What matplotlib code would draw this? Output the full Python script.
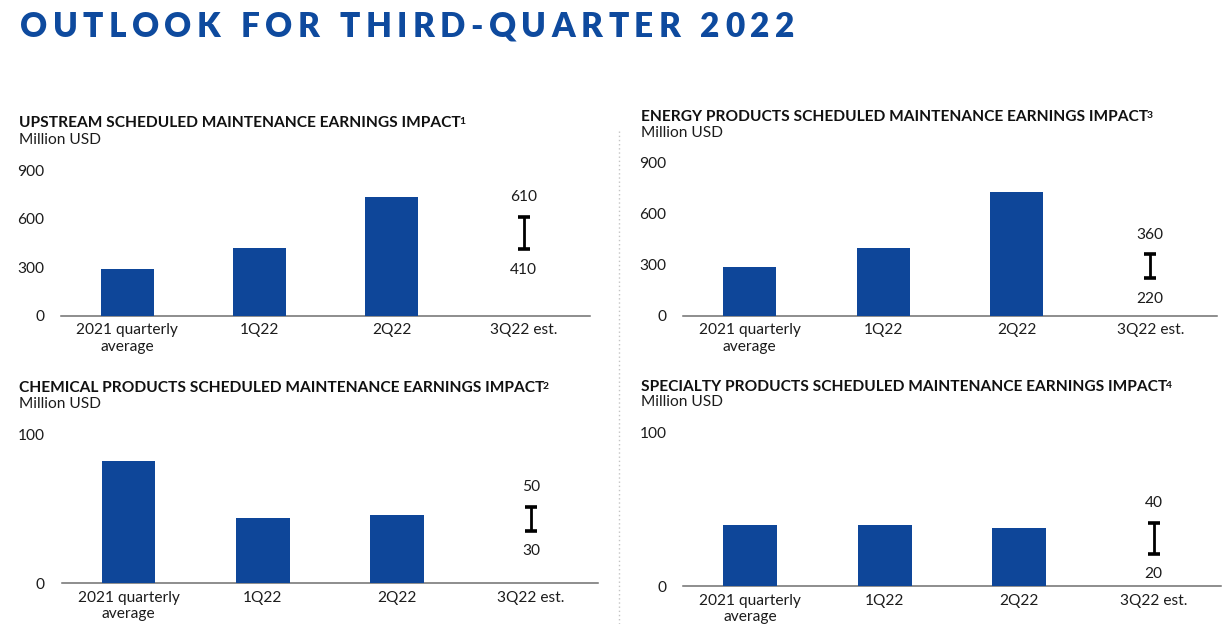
import matplotlib
matplotlib.use("Agg")
import matplotlib.pyplot as plt
from matplotlib.lines import Line2D

# ---------------- data ----------------
categories = ["2021 quarterly\naverage", "1Q22", "2Q22", "3Q22 est."]

upstream_vals = [288, 418, 731]
upstream_range = [410, 610]
upstream_range_labels = ["410", "610"]

energy_vals = [287, 397, 731]
energy_range = [220, 362]
energy_range_labels = ["220", "360"]

chemical_vals = [82, 44, 46]
chemical_range = [35, 51]
chemical_range_labels = ["30", "50"]

specialty_vals = [40, 40, 38]
specialty_range = [21, 41]
specialty_range_labels = ["20", "40"]

big_ticks = [0, 300, 600, 900]
small_ticks = [0, 100]

main_title = "OUTLOOK FOR THIRD-QUARTER 2022"
titles = [
    "UPSTREAM SCHEDULED MAINTENANCE EARNINGS IMPACT",
    "ENERGY PRODUCTS SCHEDULED MAINTENANCE EARNINGS IMPACT",
    "CHEMICAL PRODUCTS SCHEDULED MAINTENANCE EARNINGS IMPACT",
    "SPECIALTY PRODUCTS SCHEDULED MAINTENANCE EARNINGS IMPACT",
]
footnotes = ["1", "3", "2", "4"]
unit_label = "Million USD"

# ---------------- style ----------------
W, H = 1229, 624
FONT = ["Lato", "DejaVu Sans"]
BLUE = "#0E4699"
TITLE_BLUE = "#0E4A9E"
NUM_FS = 11.2
TXT = "#1c1c1c"

plt.rcParams["font.family"] = FONT

fig = plt.figure(figsize=(W / 100, H / 100), dpi=100)
fig.patch.set_facecolor("white")
renderer = fig.canvas.get_renderer()


def fx(px):
    return px / W


def fy(py):
    return 1 - py / H


def rect(x0, x1, y0px, ytop):
    return [fx(x0), fy(y0px), (x1 - x0) / W, (y0px - ytop) / H]


# main title with letter spacing
tfs = 24
TW = "heavy"
widths = []
for ch in main_title:
    if ch == " ":
        widths.append(None)
        continue
    t = fig.text(0, 0, ch, fontsize=tfs, fontweight=TW, family=FONT)
    widths.append(t.get_window_extent(renderer).width)
    t.remove()
x_start, x_end = 20, 794
n_gaps = len(main_title) - 1
word_gap = 20
n_spaces = main_title.count(" ")
ink = sum(w for w in widths if w is not None)
s = (x_end - x_start - ink - n_spaces * word_gap) / (n_gaps - 2 * n_spaces)
x = x_start
for ch, w in zip(main_title, widths):
    if w is None:
        x += word_gap - s
        continue
    fig.text(fx(x), fy(36.7), ch, fontsize=tfs, fontweight=TW,
             color=TITLE_BLUE, ha="left", va="baseline", family=FONT)
    x += w + s


def panel(axrect, vals, rng, rng_labels, ticks, ymax, title, note, title_xy, unit_xy):
    ax = fig.add_axes(axrect)
    xs = list(range(len(categories)))
    ax.bar(xs[:len(vals)], vals, width=0.4, color=BLUE, zorder=3)
    ax.errorbar([xs[-1]], [rng[0]], yerr=[[0], [rng[1] - rng[0]]], fmt="none",
                ecolor="black", elinewidth=2, capsize=4.3, capthick=2.6, zorder=4)
    ax.annotate(rng_labels[1], xy=(xs[-1], rng[1]), xytext=(0, 14.2),
                textcoords="offset points", ha="center", va="center",
                fontsize=NUM_FS, color=TXT)
    ax.annotate(rng_labels[0], xy=(xs[-1], rng[0]), xytext=(0, -14.6),
                textcoords="offset points", ha="center", va="center",
                fontsize=NUM_FS, color=TXT)
    ax.set_xlim(-0.5, len(categories) - 0.5)
    ax.set_ylim(0, ymax)
    ax.set_xticks(xs)
    ax.set_xticklabels(categories, fontsize=NUM_FS, color=TXT,
                       linespacing=1.2)
    ax.set_yticks(ticks)
    ax.set_yticklabels([str(t) for t in ticks], fontsize=NUM_FS, color=TXT)
    ax.tick_params(axis="both", length=0)
    ax.tick_params(axis="x", pad=5.5)
    ax.tick_params(axis="y", pad=12)
    for sp in ["top", "right", "left"]:
        ax.spines[sp].set_visible(False)
    ax.spines["bottom"].set_color("#6f6f6f")
    ax.spines["bottom"].set_linewidth(1.1)
    ax.patch.set_alpha(0)
    # title (cap centre at title_xy[1])
    base = title_xy[1] + 5.3
    t = fig.text(fx(title_xy[0]), fy(base), title, fontsize=11.2,
                 fontweight="bold", color="#111111", ha="left", va="baseline",
                 family=FONT)
    bb = t.get_window_extent(renderer)
    fig.text(fx(bb.x1 - 1.5), fy(base - 3.3), note, fontsize=7.4,
             fontweight="bold", color="#111111", ha="left", va="baseline",
             family=FONT)
    fig.text(fx(unit_xy[0]), fy(unit_xy[1]), unit_label, fontsize=NUM_FS,
             color=TXT, ha="left", va="center", family=FONT)
    return ax


panel(rect(61, 590, 315.7, 170), upstream_vals, upstream_range,
      upstream_range_labels, big_ticks, 900, titles[0], footnotes[0],
      (19, 121.7), (19, 140))
panel(rect(683, 1217, 315.7, 163), energy_vals, energy_range,
      energy_range_labels, big_ticks, 900, titles[1], footnotes[1],
      (641, 116), (641, 133))
panel(rect(61.5, 598, 583.3, 434), chemical_vals, chemical_range,
      chemical_range_labels, small_ticks, 100, titles[2], footnotes[2],
      (19, 386.7), (19, 404.3))
panel(rect(683, 1221, 586, 432.7), specialty_vals, specialty_range,
      specialty_range_labels, small_ticks, 100, titles[3], footnotes[3],
      (641, 385.7), (641, 402.3))

# dotted separator
fig.add_artist(Line2D([fx(618.5), fx(618.5)], [fy(131), fy(624)],
                      linestyle=(0, (1, 2)), color="#c4c4c4", linewidth=1))

fig.savefig("out.png", dpi=100, facecolor="white")
